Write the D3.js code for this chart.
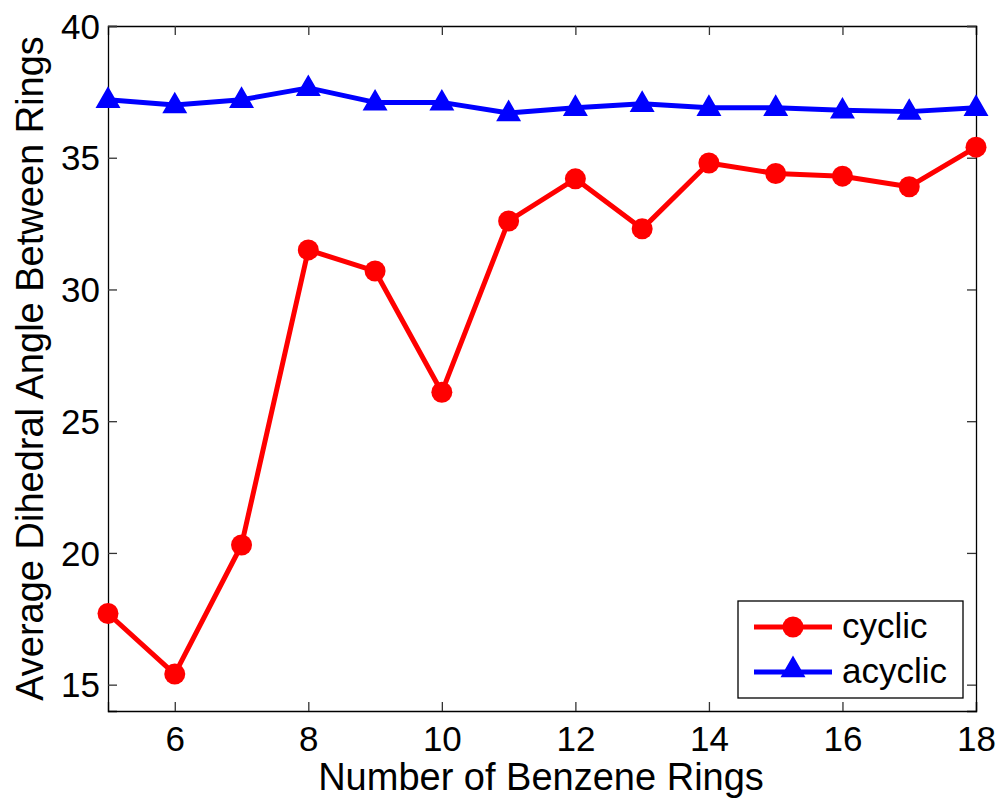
<!DOCTYPE html>
<html>
<head>
<meta charset="utf-8">
<script src="https://cdn.jsdelivr.net/npm/d3@7"></script>
<style>
  body { margin: 0; background: #fff; }
  svg { display: block; font-family: Arial, "Liberation Sans", sans-serif; }
</style>
</head>
<body>
<div id="chart"></div>
<script>
// number of benzene rings
const rings = [5, 6, 7, 8, 9, 10, 11, 12, 13, 14, 15, 16, 17, 18];
// average dihedral angle
const cyclic = [17.7, 15.4, 20.3, 31.5, 30.7, 26.1, 32.6, 34.2, 32.3, 34.8, 34.4, 34.3, 33.9, 35.4];
const acyclic = [37.2, 37.0, 37.2, 37.65, 37.1, 37.1, 36.7, 36.9, 37.05, 36.9, 36.9, 36.8, 36.75, 36.9];
const xTicks = [6, 8, 10, 12, 14, 16, 18];
const yTicks = [15, 20, 25, 30, 35, 40];

const W = 1003, H = 803;
const margin = { top: 26, right: 27, bottom: 92, left: 108 };
const width = W - margin.left - margin.right;
const height = H - margin.top - margin.bottom;

const svg = d3.select('#chart').append('svg')
    .attr('width', W)
    .attr('height', H);

const g = svg.append('g')
    .attr('transform', `translate(${margin.left},${margin.top})`);

const x = d3.scaleLinear().domain([5, 18]).range([0, width]);
const y = d3.scaleLinear().domain([14, 40]).range([height, 0]);

const tickLen = 9;

// axes, ticks pointing inward (matlab box style)
const axB = g.append('g').attr('transform', `translate(0,${height})`)
    .call(d3.axisBottom(x).tickValues(xTicks).tickSize(-tickLen).tickPadding(15).tickFormat(d3.format('d')));
const axT = g.append('g')
    .call(d3.axisTop(x).tickValues(xTicks).tickSize(-tickLen).tickFormat(''));
const axL = g.append('g')
    .call(d3.axisLeft(y).tickValues(yTicks).tickSize(-tickLen).tickPadding(8).tickFormat(d3.format('d')));
const axR = g.append('g').attr('transform', `translate(${width},0)`)
    .call(d3.axisRight(y).tickValues(yTicks).tickSize(-tickLen).tickFormat(''));

[axB, axT, axL, axR].forEach(a => {
    a.select('.domain').attr('stroke', '#000').attr('stroke-width', 1.3);
    a.selectAll('.tick line').attr('stroke', '#333').attr('stroke-width', 1.3);
    a.selectAll('.tick text').attr('fill', '#000').style('font-size', '35px');
});
axB.selectAll('.tick text').attr('dy', '0.71em');
axL.selectAll('.tick text').attr('dy', '0.35em');

// axis labels
g.append('text')
    .attr('x', width / 2 - 1)
    .attr('y', height + 79)
    .attr('text-anchor', 'middle')
    .style('font-size', '38px')
    .text('Number of Benzene Rings');

g.append('text')
    .attr('transform', 'rotate(-90)')
    .attr('x', -height / 2)
    .attr('y', -65)
    .attr('text-anchor', 'middle')
    .style('font-size', '38px')
    .text('Average Dihedral Angle Between Rings');

const line = d3.line().x(d => x(d[0])).y(d => y(d[1]));
const tri = d3.symbol().type(d3.symbolTriangle).size(200);

const series = [
    { name: 'cyclic', values: cyclic, color: '#ff0000', marker: 'circle' },
    { name: 'acyclic', values: acyclic, color: '#0000ff', marker: 'triangle' }
];

const plot = g.append('g');
series.forEach(s => {
    const pts = rings.map((r, i) => [r, s.values[i]]);
    plot.append('path')
        .datum(pts)
        .attr('fill', 'none')
        .attr('stroke', s.color)
        .attr('stroke-width', 5)
        .attr('stroke-linejoin', 'round')
        .attr('d', line);
    if (s.marker === 'circle') {
        plot.selectAll(null).data(pts).enter().append('circle')
            .attr('cx', d => x(d[0]))
            .attr('cy', d => y(d[1]))
            .attr('r', 10.5)
            .attr('fill', s.color);
    } else {
        plot.selectAll(null).data(pts).enter().append('path')
            .attr('transform', d => `translate(${x(d[0])},${y(d[1]) + 1})`)
            .attr('d', tri)
            .attr('fill', s.color)
            .attr('stroke', s.color)
            .attr('stroke-width', 2);
    }
});

// legend
const leg = g.append('g').attr('transform', `translate(${738 - margin.left},${601 - margin.top})`);
leg.append('rect')
    .attr('width', 225).attr('height', 97)
    .attr('fill', '#fff').attr('stroke', '#000').attr('stroke-width', 1.3);
series.forEach((s, i) => {
    const cy = 26 + i * 45;
    leg.append('line')
        .attr('x1', 16).attr('x2', 94).attr('y1', cy).attr('y2', cy)
        .attr('stroke', s.color).attr('stroke-width', 5);
    if (s.marker === 'circle') {
        leg.append('circle').attr('cx', 55).attr('cy', cy).attr('r', 10.5).attr('fill', s.color);
    } else {
        leg.append('path').attr('transform', `translate(55,${cy - 2})`)
            .attr('d', tri).attr('fill', s.color).attr('stroke', s.color).attr('stroke-width', 2);
    }
    leg.append('text')
        .attr('x', 104).attr('y', cy + 11)
        .style('font-size', '35px')
        .text(s.name);
});
</script>
</body>
</html>
